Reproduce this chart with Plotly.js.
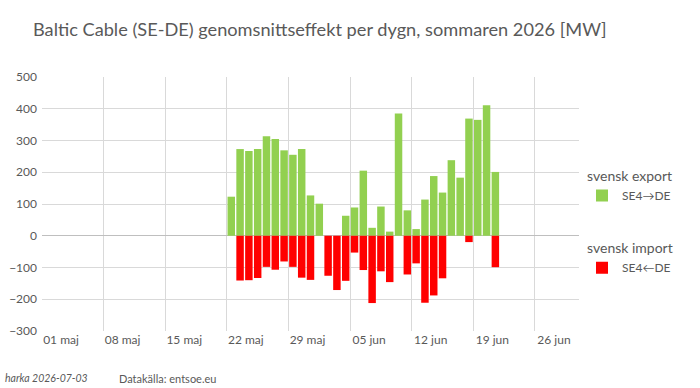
<!DOCTYPE html>
<html><head><meta charset="utf-8">
<script src="https://cdn.plot.ly/plotly-3.0.1.min.js"></script>
<style>html,body{margin:0;padding:0;background:#fff}#c{width:700px;height:388px}</style>
</head><body><div id="c"></div>
<script>
const dates = ['2026-05-22','2026-05-23','2026-05-24','2026-05-25','2026-05-26','2026-05-27','2026-05-28','2026-05-29','2026-05-30','2026-05-31',
 '2026-06-01','2026-06-02','2026-06-03','2026-06-04','2026-06-05','2026-06-06','2026-06-07','2026-06-08','2026-06-09','2026-06-10',
 '2026-06-11','2026-06-12','2026-06-13','2026-06-14','2026-06-15','2026-06-16','2026-06-17','2026-06-18','2026-06-19','2026-06-20','2026-06-21'];
const exportMW = [123,273,267,273,313,305,269,255,273,127,
 101,0,0,63,89,205,25,92,13,385,
 80,21,114,188,136,238,183,369,365,411,201];
const importMW = [0,-141,-140,-133,-98,-107,-81,-98,-132,-139,
 0,-126,-171,-142,-53,-108,-212,-112,-146,0,
 -122,-87,-211,-188,-134,0,0,-20,0,0,-99];
const tickDates = ['2026-05-01','2026-05-08','2026-05-15','2026-05-22','2026-05-29','2026-06-05','2026-06-12','2026-06-19','2026-06-26'];
const tickLabels = ['01 maj','08 maj','15 maj','22 maj','29 maj','05 jun','12 jun','19 jun','26 jun'];
const yTicks = [-300,-200,-100,0,100,200,300,400,500];

const FONT = 'Lato, "Open Sans", sans-serif';
const GREY = '#595959';
const DAY = 86400000;

const traces = [
 {type:'bar', name:'SE4→DE', x:dates, y:exportMW, xperiod:DAY, xperiodalignment:'middle',
  marker:{color:'#92D050'}, legendgroup:'exp', legendgrouptitle:{text:'svensk export', font:{size:14,color:GREY,family:FONT}}, hoverinfo:'x+y'},
 {type:'bar', name:'SE4←DE', x:dates, y:importMW, xperiod:DAY, xperiodalignment:'middle',
  marker:{color:'#FF0000'}, legendgroup:'imp', legendgrouptitle:{text:'svensk import', font:{size:14,color:GREY,family:FONT}}, hoverinfo:'x+y'}
];

const layout = {
 width:700, height:388,
 margin:{l:42, r:121, t:77, b:57},
 paper_bgcolor:'#fff', plot_bgcolor:'#fff',
 font:{family:FONT, color:GREY, size:12},
 barmode:'relative', bargap:0.15,
 title:{text:'Baltic Cable (SE-DE) genomsnittseffekt per dygn, sommaren 2026 [MW]',
  x:33/700, xref:'container', xanchor:'left', y:1-30/388, yref:'container', yanchor:'middle',
  font:{family:FONT, size:18.2, color:GREY}},
 xaxis:{type:'date', range:['2026-05-01','2026-07-01'], tickvals:tickDates, ticktext:tickLabels,
  showgrid:true, gridcolor:'#D9D9D9', gridwidth:1, zeroline:false, showline:false, ticks:'',
  ticklabelshift:19, tickfont:{size:12, color:GREY, family:FONT}},
 yaxis:{range:[-300,500], tickvals:yTicks, showgrid:true, gridcolor:'#D9D9D9', gridwidth:1,
  zeroline:true, zerolinecolor:'#BFBFBF', zerolinewidth:1, showline:false, ticks:'',
  ticklabelstandoff:4, tickfont:{size:12, color:GREY, family:FONT}},
 showlegend:true,
 legend:{x:1+3/537, xanchor:'left', y:0.674, yanchor:'top', tracegroupgap:32, traceorder:'grouped',
  font:{size:12, color:GREY, family:FONT}, bgcolor:'rgba(0,0,0,0)'},
 annotations:[
  {text:'<i>harka 2026-07-03</i>', xref:'paper', yref:'paper', x:(3-42)/537, y:(331-378)/254,
   xanchor:'left', yanchor:'middle', showarrow:false, font:{size:10.5, color:GREY, family:FONT}},
  {text:'Datakälla: entsoe.eu', xref:'paper', yref:'paper', x:(117-42)/537, y:(331-378)/254,
   xanchor:'left', yanchor:'middle', showarrow:false, font:{size:11, color:GREY, family:FONT}}
 ]
};
Plotly.newPlot('c', traces, layout, {displayModeBar:false, staticPlot:true});
</script></body></html>
